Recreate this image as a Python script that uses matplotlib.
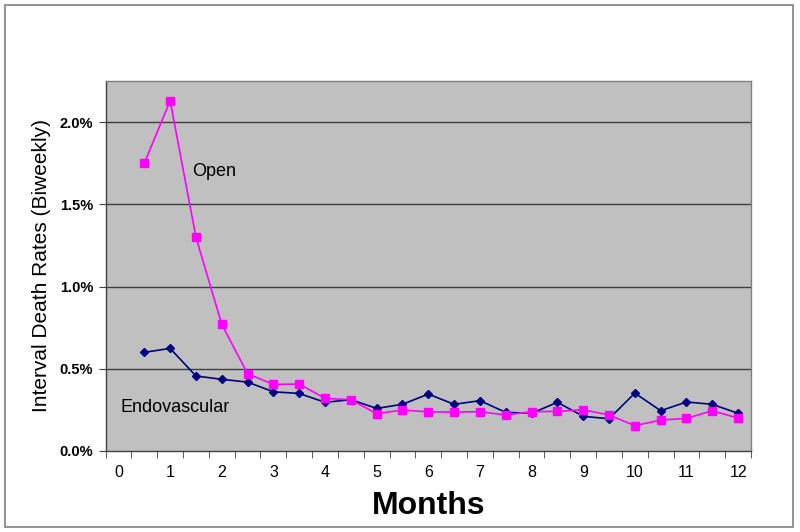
import matplotlib
matplotlib.use("Agg")
import matplotlib.pyplot as plt
from matplotlib.patches import Rectangle
from matplotlib.ticker import FixedLocator, FuncFormatter
import numpy as np

months = [0.5, 1, 1.5, 2, 2.5, 3, 3.5, 4, 4.5, 5, 5.5, 6, 6.5, 7, 7.5, 8, 8.5,
          9, 9.5, 10, 10.5, 11, 11.5, 12]
open_rates = [1.75, 2.13, 1.30, 0.77, 0.47, 0.405, 0.407, 0.32, 0.312, 0.227,
              0.249, 0.238, 0.237, 0.239, 0.219, 0.239, 0.241, 0.251, 0.219,
              0.154, 0.188, 0.198, 0.245, 0.200]
endo_rates = [0.60, 0.624, 0.456, 0.436, 0.419, 0.36, 0.350, 0.296, 0.312, 0.259,
              0.284, 0.346, 0.284, 0.306, 0.235, 0.229, 0.296, 0.211, 0.196,
              0.352, 0.245, 0.298, 0.284, 0.229]
xtick_labels = [str(i) for i in range(13)]
ytick_values = [0.0, 0.5, 1.0, 1.5, 2.0]

plt.rcParams['font.family'] = ['Liberation Sans', 'DejaVu Sans']
narrow = ['Liberation Sans Narrow', 'Liberation Sans', 'DejaVu Sans']

fig = plt.figure(figsize=(8, 5.32), dpi=100)
fig.patches.append(Rectangle((5/800, 5/532), 788/800, 522/532, transform=fig.transFigure,
                             fill=False, edgecolor='#808080', linewidth=1.2))
ax = fig.add_axes([105.6/800, 1-451/532, (751-105.6)/800, (451-81)/532])
ax.set_facecolor('#C0C0C0')
ax.set_xlim(-0.25, 12.25)
ax.set_ylim(0, 2.25)

for y in ytick_values[1:]:
    ax.axhline(y, color='#404040', linewidth=1.0, zorder=1)

ax.plot(months, endo_rates, color='#000080', marker='D', markersize=4.5,
        linewidth=1.2, zorder=3)
ax.plot(months, open_rates, color='#FF00FF', marker='s', markersize=5.8,
        linewidth=1.2, zorder=4)

ax.text(1.42, 1.70, 'Open', fontsize=13, va='center', ha='left', color='black')
ax.text(0.03, 0.267, 'Endovascular', fontsize=13, va='center', ha='left', color='black')

# x axis: labels at integers, tick marks at category boundaries
ax.set_xticks(range(13))
ax.set_xticklabels(xtick_labels, fontsize=11.5, family=narrow)
ax.tick_params(axis='x', which='major', length=0, pad=10)
ax.xaxis.set_minor_locator(FixedLocator(np.arange(-0.25, 12.26, 0.5)))
ax.tick_params(axis='x', which='minor', length=5, direction='out', color='#404040')

ax.set_yticks(ytick_values)
ax.yaxis.set_major_formatter(FuncFormatter(lambda v, p: f'{v:.1f}%'))
for lab in ax.get_yticklabels():
    lab.set_fontweight('bold')
    lab.set_fontsize(10.5)
    lab.set_family(narrow)
ax.tick_params(axis='y', length=5, direction='out', color='#404040', pad=4)

for s in ['left', 'bottom']:
    ax.spines[s].set_color('#404040')
    ax.spines[s].set_linewidth(1.0)
for s in ['top', 'right']:
    ax.spines[s].set_color('#808080')
    ax.spines[s].set_linewidth(1.0)

ax.set_xlabel('Months', fontsize=23, fontweight='bold', family=narrow, labelpad=8)
ax.set_ylabel('Interval Death Rates (Biweekly)', fontsize=15, labelpad=6)

fig.savefig('out.png', dpi=100)
